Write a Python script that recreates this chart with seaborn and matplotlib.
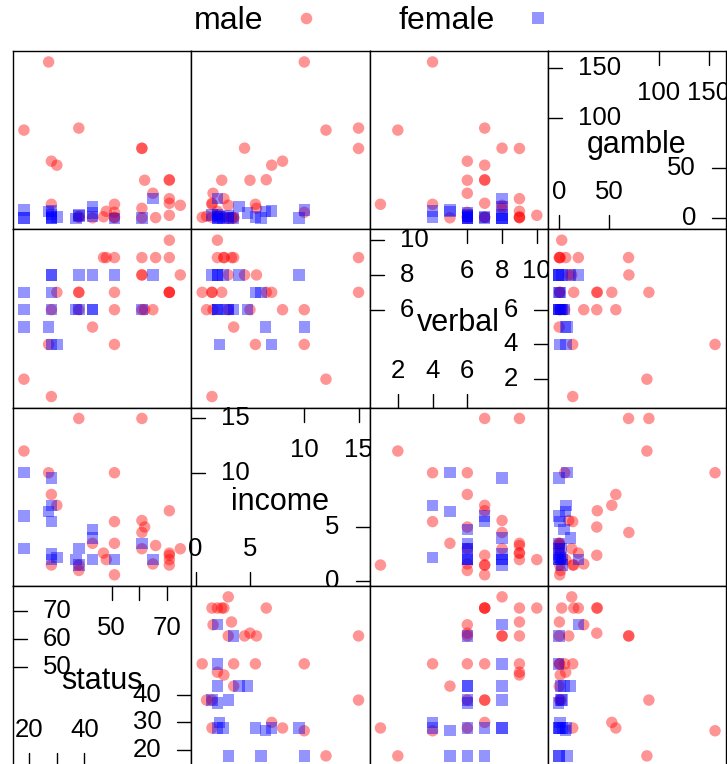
import matplotlib
matplotlib.use("Agg")
import matplotlib.pyplot as plt
import matplotlib.transforms as mtransforms
from matplotlib.lines import Line2D
import pandas as pd
import seaborn as sns

# teen gambling data
female_status = [51, 28, 37, 28, 65, 61, 28, 27, 43, 18, 18, 43, 30, 28, 38, 38, 28, 18, 43]
female_income = [2.0, 2.5, 2.0, 7.0, 2.0, 3.47, 5.5, 6.42, 2.0, 6.0, 3.0, 4.75, 2.2, 2.0, 3.0, 1.5, 9.5, 10.0, 4.0]
female_verbal = [8, 8, 6, 4, 8, 6, 7, 5, 6, 7, 6, 6, 4, 6, 6, 8, 8, 5, 8]
female_gamble = [0.0, 0.0, 0.0, 7.3, 19.6, 0.1, 1.45, 6.6, 1.7, 0.1, 0.1, 5.4, 1.2, 3.6, 2.4, 3.4, 0.1, 8.4, 12.0]

male_status = [27, 38, 18, 61, 61, 28, 30, 71, 71, 62, 65, 75, 71, 71, 71, 66, 61, 61, 51, 51,
               51, 51, 48, 47, 43, 38, 38, 28]
male_income = [10.0, 15.0, 12.0, 15.0, 4.5, 8.0, 7.0, 6.5, 2.4, 5.0, 1.6, 3.0, 2.0, 2.6, 1.5, 3.3,
               5.6, 3.0, 5.5, 10.0, 0.6, 3.5, 2.0, 2.6, 3.5, 1.0, 1.5, 1.5]
male_verbal = [4, 7, 2, 9, 8, 6, 7, 7, 7, 6, 6, 8, 10, 9, 7, 9, 8, 6, 4, 6, 7, 9, 9, 9, 5, 6, 7, 1]
male_gamble = [156.0, 90.0, 88.0, 69.7, 70.0, 57.0, 53.0, 38.5, 38.0, 38.0, 25.0, 13.0, 3.0, 19.6,
               15.0, 0.7, 10.0, 0.5, 14.0, 6.0, 1.0, 0.7, 7.0, 1.5, 0.5, 2.0, 1.0, 14.0]

variables = ["status", "income", "verbal", "gamble"]
axis_ticks = {
    "status": [20, 30, 40, 50, 60, 70],
    "income": [0, 5, 10, 15],
    "verbal": [2, 4, 6, 8, 10],
    "gamble": [0, 50, 100, 150],
}

df = pd.DataFrame({
    "sex": ["male"] * len(male_status) + ["female"] * len(female_status),
    "status": male_status + female_status,
    "income": male_income + female_income,
    "verbal": male_verbal + female_verbal,
    "gamble": male_gamble + female_gamble,
})

# lattice style limits: data range padded by 7% each side
limits = {}
for v in variables:
    lo, hi = df[v].min(), df[v].max()
    pad = 0.07 * (hi - lo)
    limits[v] = (lo - pad, hi + pad)

sns.set_style("white")
plt.rcParams["font.family"] = ["Liberation Sans", "DejaVu Sans"]
plt.rcParams["text.color"] = "black"

W, H = 727, 764
fig = plt.figure(figsize=(W / 100, H / 100), dpi=100)

x0, y0, cell = 13, 51, 178.25
TICK_PX = 14
TICK_FS = 18.5
NAME_FS = 22
colors = {"male": "#ff0000", "female": "#0000ff"}
markers = {"male": "o", "female": "s"}


def label_width(s):
    return 0.556 * TICK_FS * 1.389 * len(s)


def draw_diag(ax, name, ticks, lim):
    ax.set_xlim(lim)
    ax.set_ylim(lim)
    ax.set_xticks([])
    ax.set_yticks([])
    ax.text(0.5, 0.5, name, ha="center", va="center", fontsize=NAME_FS,
            transform=mtransforms.offset_copy(ax.transAxes, fig=fig, x=0, y=-5, units="dots"))

    n = len(ticks)
    k = (n + 1) // 2
    low, high = ticks[:k], ticks[n - k:]
    tf = TICK_PX / cell
    ybl = mtransforms.blended_transform_factory(ax.transAxes, ax.transData)
    xbl = mtransforms.blended_transform_factory(ax.transData, ax.transAxes)
    kw = dict(color="black", lw=1.0, clip_on=False)

    def keep_labels(vals):
        kept, last = [], None
        for v in vals:
            px = (v - lim[0]) / (lim[1] - lim[0]) * cell
            w = label_width(str(v))
            if last is None or px - last[0] > (w + last[1]) / 2:
                kept.append(v)
                last = (px, w)
        return kept

    # left side: upper half
    for v in high:
        ax.plot([0, tf], [v, v], transform=ybl, **kw)
        ax.text(0, v, str(v), fontsize=TICK_FS, ha="left", va="center",
                transform=mtransforms.offset_copy(ybl, fig=fig, x=30, y=0, units="dots"))
    # right side: lower half
    for v in low:
        ax.plot([1 - tf, 1], [v, v], transform=ybl, **kw)
        ax.text(1, v, str(v), fontsize=TICK_FS, ha="right", va="center",
                transform=mtransforms.offset_copy(ybl, fig=fig, x=-30, y=0, units="dots"))
    # top side: upper half
    for v in high:
        ax.plot([v, v], [1 - tf, 1], transform=xbl, **kw)
    for v in keep_labels(high):
        ax.text(v, 1, str(v), fontsize=TICK_FS, ha="center", va="center",
                transform=mtransforms.offset_copy(xbl, fig=fig, x=0, y=-42, units="dots"))
    # bottom side: lower half
    for v in low:
        ax.plot([v, v], [0, tf], transform=xbl, **kw)
    for v in keep_labels(low):
        ax.text(v, 0, str(v), fontsize=TICK_FS, ha="center", va="center",
                transform=mtransforms.offset_copy(xbl, fig=fig, x=0, y=37, units="dots"))


for r in range(4):
    yvar = variables[3 - r]
    h = cell if r < 3 else cell + 3
    for c in range(4):
        xvar = variables[c]
        ax = fig.add_axes([(x0 + c * cell) / W, 1 - (y0 + r * cell + h) / H, cell / W, h / H])
        for sp in ax.spines.values():
            sp.set_color("black")
            sp.set_linewidth(1.0)
        if xvar == yvar:
            draw_diag(ax, xvar, axis_ticks[xvar], limits[xvar])
            continue
        sns.scatterplot(data=df, x=xvar, y=yvar, hue="sex", style="sex",
                        palette=colors, markers=markers, hue_order=["male", "female"],
                        s=68, alpha=0.42, linewidth=0, legend=False, ax=ax)
        ax.set_xlim(limits[xvar])
        ax.set_ylim(limits[yvar])
        ax.set_xticks([])
        ax.set_yticks([])
        ax.set_xlabel("")
        ax.set_ylabel("")

handles = [
    Line2D([], [], ls="", marker="o", color=colors["male"], alpha=0.42, ms=8.3, mew=0),
    Line2D([], [], ls="", marker="s", color=colors["female"], alpha=0.42, ms=8.3, mew=0),
]
fig.legend(handles, ["male", "female"], ncol=2, markerfirst=False, frameon=False,
           fontsize=23, loc="center", bbox_to_anchor=(374 / W, 1 - 21 / H),
           handlelength=1.0, handletextpad=0.85, columnspacing=2.4)

fig.savefig("out.png", dpi=100)
